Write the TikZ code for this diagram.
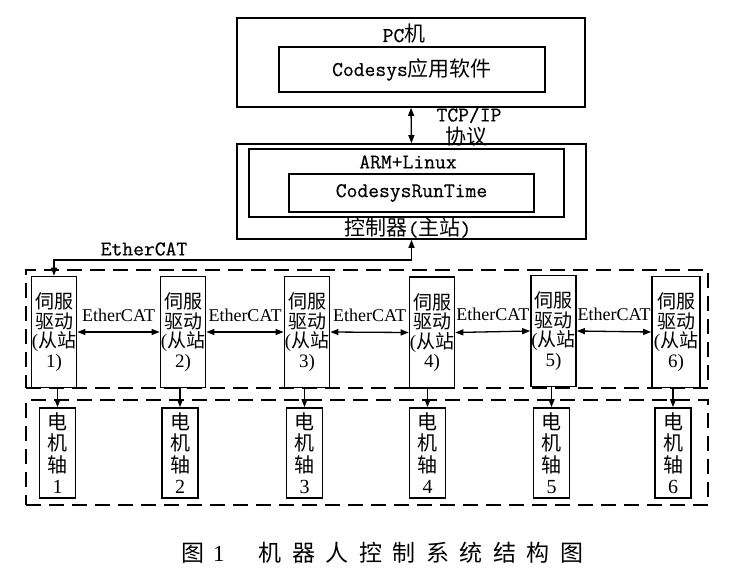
\documentclass[tikz,border=0pt]{standalone}
\usepackage{fontspec}
\setmainfont{Liberation Serif}
\setmonofont[FakeBold=0.5]{Latin Modern Mono}
\newfontfamily\cjk{Noto Sans CJK SC}
\usetikzlibrary{arrows.meta}
\newcommand{\zh}[1]{{\cjk #1}}
\begin{document}
\begin{tikzpicture}[x=1pt,y=-1pt]
\tikzset{
 box/.style={draw, line width=1.7pt, inner sep=0pt},
 grp/.style={draw, line width=1.4pt, dash pattern=on 15pt off 8pt, inner sep=0pt},
 tip/.tip={Triangle[length=8pt,width=6pt]},
 arr/.style={line width=1.3pt, tip-tip},
 darr/.style={line width=1.3pt, -tip},
 mono/.style={font=\fontsize{21}{19}\selectfont\ttfamily, inner sep=0pt},
 slave/.style={box, minimum width=45pt, minimum height=111pt, align=center, font=\fontsize{19}{19.5}\selectfont},
 motor/.style={box, minimum width=36pt, minimum height=90pt, align=center, font=\fontsize{20}{21.5}\selectfont},
 elabel/.style={font=\fontsize{18}{20}\selectfont, inner sep=0pt},
}
\useasboundingbox[fill=white] (0,0) rectangle (736,584);

% top
\node[box, minimum width=348pt, minimum height=89pt] (pc) at (411,62.5) {};
\node[mono] (pclab) at (404,34) {PC\zh{机}};
\node[box, mono, minimum width=266pt, minimum height=45pt] (codesys) at (412,69.5) {Codesys\zh{应用软件}};

\node[box, minimum width=349pt, minimum height=95pt] (ctrl) at (411.5,191.5) {};
\node[box, minimum width=315pt, minimum height=68pt] (arm) at (406.5,183) {};
\node[mono] (armlab) at (408,162) {ARM+Linux};
\node[box, mono, minimum width=245pt, minimum height=38pt] (rt) at (411.5,193) {CodesysRunTime};
\node[mono] (ctrllab) at (408,228) {\zh{控制器}(\zh{主站})};

\draw[arr] (pc.south) -- (ctrl.north);
\node[mono] (tcp) at (469,115) {TCP/IP};
\node[mono] (proto) at (466,137) {\zh{协议}};

% groups
\node[grp, minimum width=682pt, minimum height=118pt] (g1) at (367,329) {};
\node[grp, minimum width=682pt, minimum height=105pt] (g2) at (367,452.5) {};

% slaves
\node[slave] (s1) at (54,332) {\zh{伺服}\\\zh{驱动}\\(\zh{从站}\\1)};
\node[slave] (s2) at (183,332) {\zh{伺服}\\\zh{驱动}\\(\zh{从站}\\2)};
\node[slave] (s3) at (307,332) {\zh{伺服}\\\zh{驱动}\\(\zh{从站}\\3)};
\node[slave] (s4) at (432,332.5) {\zh{伺服}\\\zh{驱动}\\(\zh{从站}\\4)};
\node[slave] (s5) at (553.5,331) {\zh{伺服}\\\zh{驱动}\\(\zh{从站}\\5)};
\node[slave, minimum width=48pt] (s6) at (676,332) {\zh{伺服}\\\zh{驱动}\\(\zh{从站}\\6)};

% motors
\node[motor] (m1) at (57.5,453) {\zh{电}\\\zh{机}\\\zh{轴}\\1};
\node[motor] (m2) at (180,453) {\zh{电}\\\zh{机}\\\zh{轴}\\2};
\node[motor] (m3) at (304.5,453) {\zh{电}\\\zh{机}\\\zh{轴}\\3};
\node[motor] (m4) at (427.5,453) {\zh{电}\\\zh{机}\\\zh{轴}\\4};
\node[motor] (m5) at (551.5,453) {\zh{电}\\\zh{机}\\\zh{轴}\\5};
\node[motor] (m6) at (673,453) {\zh{电}\\\zh{机}\\\zh{轴}\\6};

% EtherCAT master link
\coordinate (ebus) at (230,260);
\draw[arr] (ctrl.south) |- (ebus) -| (s1.north);
\node[mono] (ethtop) at (144,249) {EtherCAT};

% EtherCAT between slaves
\foreach \a/\b in {s1/s2,s2/s3,s3/s4,s4/s5,s5/s6}{
  \draw[arr] (\a.east) -- (\b.west) node[elabel, midway, yshift=17pt] {EtherCAT};
}

% slave to motor
\foreach \i in {1,...,6}{
  \draw[darr] (s\i.south -| m\i.north) -- (m\i.north);
}

% caption
\node[anchor=west, inner sep=0pt, font=\fontsize{23}{23}\selectfont] (cap) at (181,553)
 {\zh{图}\kern9pt 1\kern34pt\zh{机\kern10.5pt 器\kern10.5pt 人\kern10.5pt 控\kern10.5pt 制\kern10.5pt 系\kern10.5pt 统\kern10.5pt 结\kern10.5pt 构\kern10.5pt 图}};
\end{tikzpicture}
\end{document}
